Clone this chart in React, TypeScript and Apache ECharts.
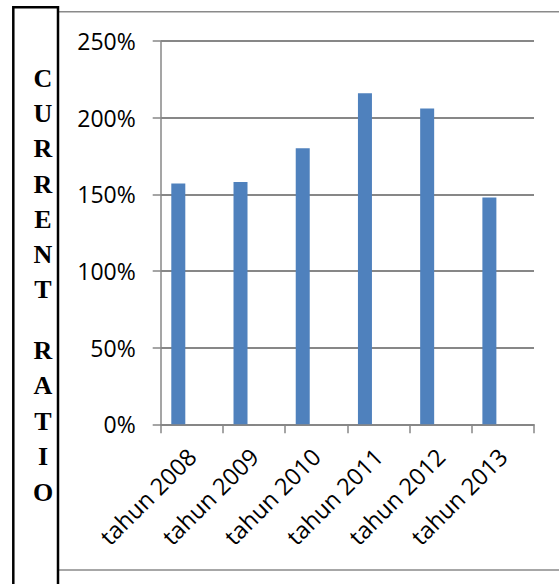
import React, { useEffect, useRef } from "react";
import * as echarts from "echarts";

const categories = ["tahun 2008", "tahun 2009", "tahun 2010", "tahun 2011", "tahun 2012", "tahun 2013"];
const currentRatio = [1.57, 1.58, 1.8, 2.16, 2.06, 1.48];
// Empty companion series (Excel leaves room for it, which shifts the bars left)
const emptySeries: (number | null)[] = [null, null, null, null, null, null];
const yMin = 0;
const yMax = 2.5;
const yStep = 0.5;
const titleWord1 = ["C", "U", "R", "R", "E", "N", "T"];
const titleWord2 = ["R", "A", "T", "I", "O"];

export default function App() {
  const ref = useRef<HTMLDivElement>(null);
  useEffect(() => {
    if (!ref.current) return;
    const chart = echarts.init(ref.current, null, { renderer: "svg" });
    const gray = "#878787";
    chart.setOption({
      animation: false,
      backgroundColor: "#ffffff",
      grid: { left: 160.7, right: 25, top: 41, bottom: 159.7, containLabel: false },
      graphic: [
        {
          type: "rect",
          shape: { x: 58, y: 11.7, width: 560, height: 558.3 },
          style: { fill: "none", stroke: "#8a8a8a", lineWidth: 1.4 },
          silent: true,
        },
        {
          type: "rect",
          shape: { x: 13.3, y: 7.2, width: 44.7, height: 600 },
          style: { fill: "#ffffff", stroke: "#000000", lineWidth: 2.5 },
          silent: true,
        },
        {
          type: "text",
          x: 43,
          y: 60.5,
          style: {
            text: titleWord1.join("\n"),
            fontFamily: "Liberation Serif",
            fontWeight: "bold",
            fontSize: 26,
            lineHeight: 35.3,
            fill: "#000000",
            textAlign: "center",
            textVerticalAlign: "top",
          },
          silent: true,
        },
        {
          type: "text",
          x: 43,
          y: 332.5,
          style: {
            text: titleWord2.join("\n"),
            fontFamily: "Liberation Serif",
            fontWeight: "bold",
            fontSize: 26,
            lineHeight: 35.5,
            fill: "#000000",
            textAlign: "center",
            textVerticalAlign: "top",
          },
          silent: true,
        },
      ],
      xAxis: {
        type: "category",
        data: categories,
        boundaryGap: true,
        axisLine: { show: true, lineStyle: { color: gray, width: 1.5 } },
        axisTick: { show: true, length: 9, lineStyle: { color: gray, width: 1.5 } },
        axisLabel: {
          interval: 0,
          rotate: 45,
          margin: 28,
          fontFamily: "Open Sans",
          fontSize: 23.5,
          color: "#000000",
        },
        splitLine: { show: false },
      },
      yAxis: {
        type: "value",
        min: yMin,
        max: yMax,
        interval: yStep,
        axisLine: { show: true, lineStyle: { color: gray, width: 1.5 } },
        axisTick: { show: true, length: 8, lineStyle: { color: gray, width: 1.5 } },
        axisLabel: {
          margin: 25,
          fontFamily: "Open Sans",
          fontSize: 23,
          color: "#000000",
          formatter: (v: number) => Math.round(v * 100) + "%",
        },
        splitLine: { show: true, lineStyle: { color: gray, width: 2 } },
      },
      series: [
        {
          type: "bar",
          data: currentRatio,
          barWidth: 14,
          barGap: "93%",
          itemStyle: { color: "#4F81BD" },
        },
        {
          type: "bar",
          data: emptySeries,
          barWidth: 14,
          barGap: "93%",
          itemStyle: { color: "#C0504D" },
        },
      ],
    });
    return () => chart.dispose();
  }, []);
  return (
    <div
      ref={ref}
      style={{ position: "absolute", left: 0, top: 0, width: 559, height: 584 }}
    />
  );
}
